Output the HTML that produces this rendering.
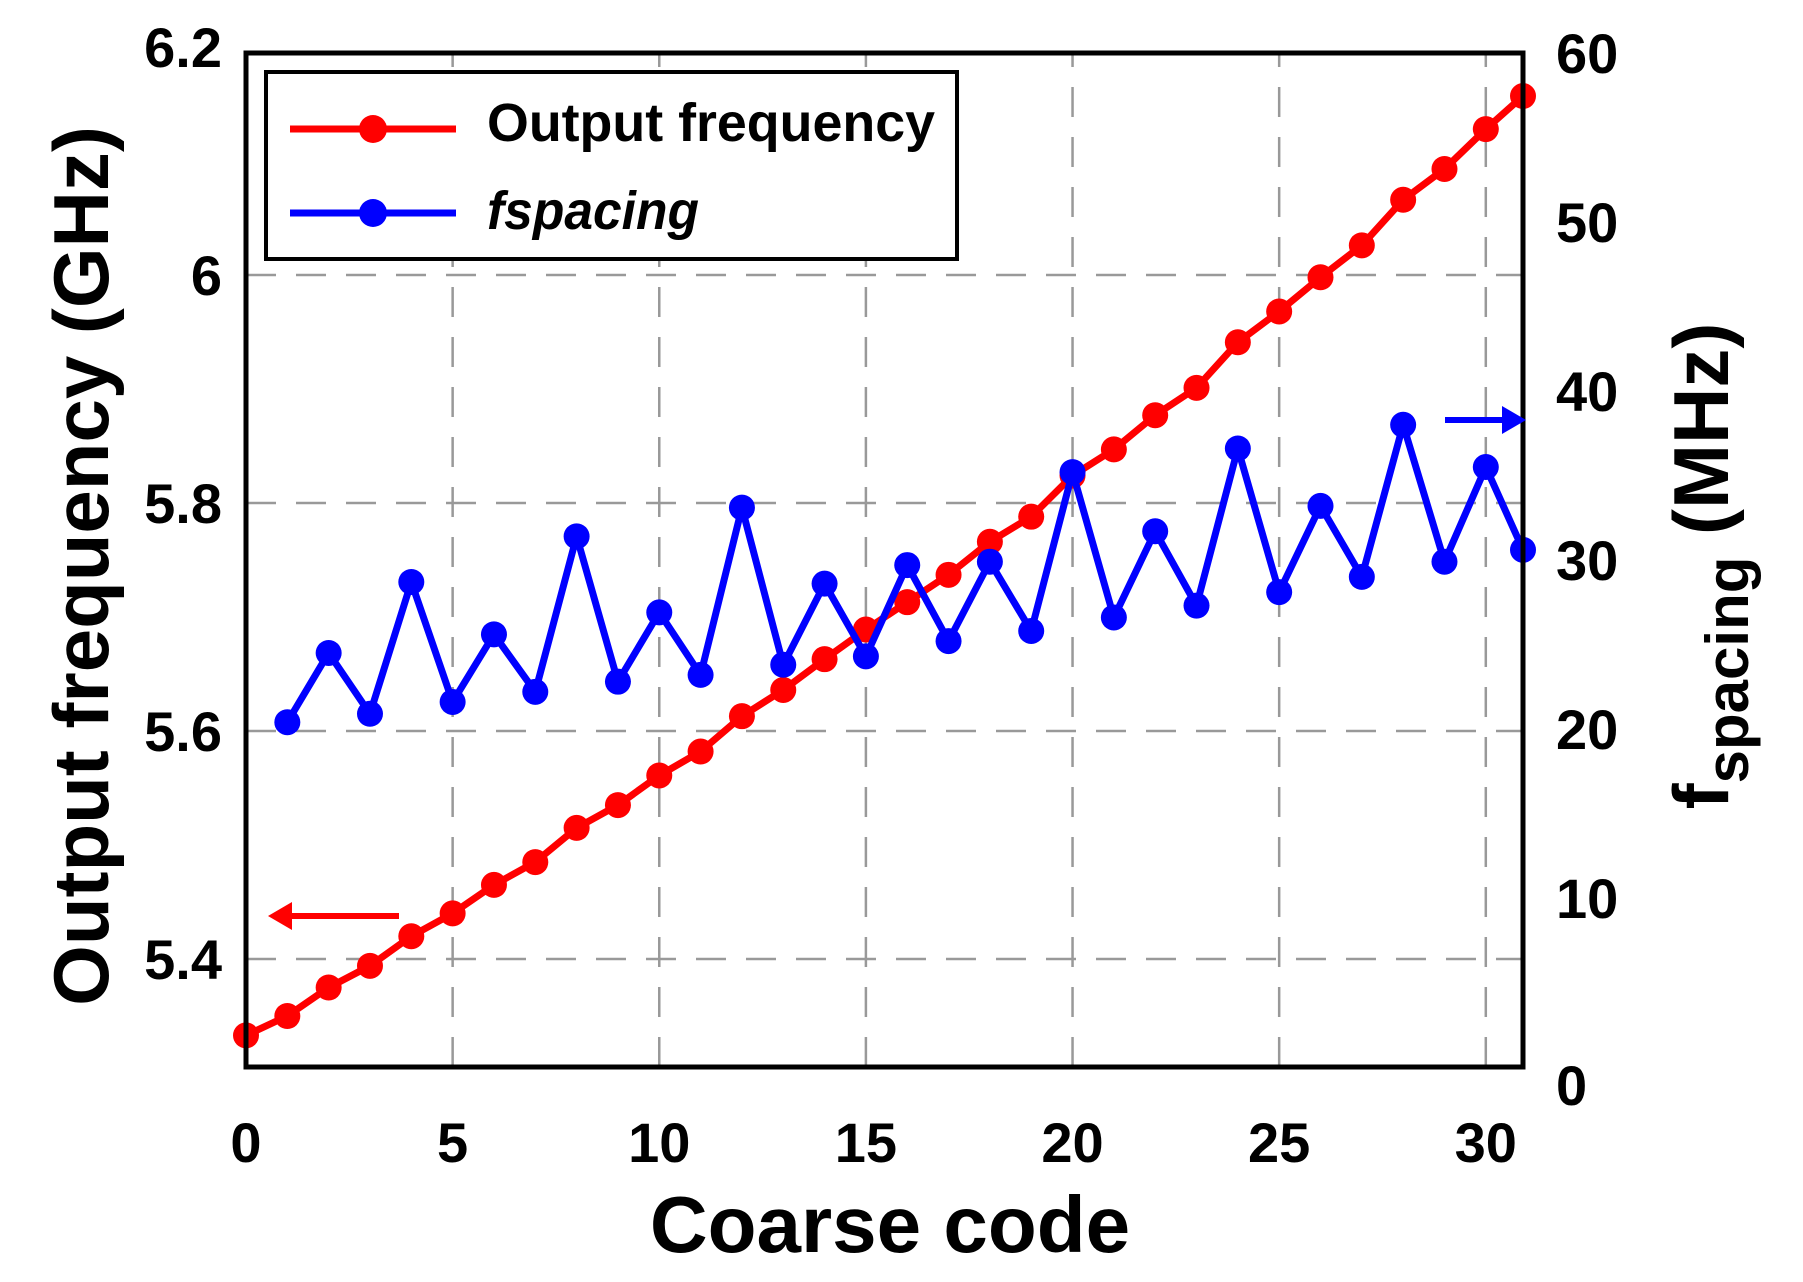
<!DOCTYPE html>
<html><head><meta charset="utf-8"><style>
html,body{margin:0;padding:0;background:#fff;}
svg{display:block;font-family:"Liberation Sans",Arial,sans-serif;font-weight:bold;}
</style></head><body>
<svg id="chart" width="1803" height="1282" viewBox="0 0 1803 1282" xmlns="http://www.w3.org/2000/svg">
<g id="grid"></g>
<g id="series"></g>
<rect x="246" y="53" width="1277" height="1014" fill="none" stroke="#000" stroke-width="5"/>
<g id="ticks"></g>
<text x="890" y="1252" text-anchor="middle" font-size="80">Coarse code</text>
<text transform="translate(108,566) rotate(-90)" text-anchor="middle" font-size="78">Output frequency (GHz)</text>
<text transform="translate(1728,566) rotate(-90)" text-anchor="middle" font-size="78">f<tspan font-size="60" dy="20">spacing</tspan><tspan dy="-20"> (MHz)</tspan></text>
<g><line x1="399" y1="916" x2="285" y2="916" stroke="#f00" stroke-width="6"/><polygon points="268,916 292,902 292,930" fill="#f00"/></g>
<g><line x1="1445" y1="420" x2="1508" y2="420" stroke="#00f" stroke-width="6"/><polygon points="1526,420 1502,406 1502,434" fill="#00f"/></g>
<g>
<rect x="266" y="72" width="691" height="187" fill="#fff" stroke="#000" stroke-width="4"/>
<g><line x1="290" y1="129" x2="456" y2="129" stroke="#f00" stroke-width="7"/><circle cx="373" cy="129" r="14" fill="#f00"/><text x="487" y="141" font-size="54" textLength="448" lengthAdjust="spacingAndGlyphs">Output frequency</text></g>
<g><line x1="290" y1="213" x2="456" y2="213" stroke="#00f" stroke-width="7"/><circle cx="373" cy="213" r="14" fill="#00f"/><text x="487" y="229" font-size="54" font-style="italic" textLength="212" lengthAdjust="spacingAndGlyphs">fspacing</text></g>
</g>
</svg>
<script>
const codes=[0,1,2,3,4,5,6,7,8,9,10,11,12,13,14,15,16,17,18,19,20,21,22,23,24,25,26,27,28,29,30,30.9];
const freqGHz=[5.333,5.35,5.375,5.394,5.42,5.44,5.465,5.485,5.515,5.535,5.561,5.582,5.613,5.636,5.663,5.689,5.713,5.737,5.766,5.788,5.824,5.847,5.877,5.901,5.941,5.968,5.998,6.026,6.066,6.093,6.128,6.157];
const spacingCodes=[1,2,3,4,5,6,7,8,9,10,11,12,13,14,15,16,17,18,19,20,21,22,23,24,25,26,27,28,29,30,30.9];
const spacingMHz=[20.4,24.5,20.9,28.7,21.6,25.6,22.2,31.4,22.8,26.9,23.2,33.1,23.8,28.6,24.3,29.7,25.2,29.9,25.8,35.2,26.6,31.7,27.3,36.6,28.1,33.2,29.0,38.0,29.9,35.5,30.6];
const xTicks=[0,5,10,15,20,25,30];
const yLeftTicks=[5.4,5.6,5.8,6.0,6.2];
const yLeftLabels=["5.4","5.6","5.8","6","6.2"];
const yRightTicks=[0,10,20,30,40,50,60];
const NS="http://www.w3.org/2000/svg";
const X0=246,X1=1523,Y0=1067,Y1=53;
function xs(v){return X0+(v-0)/30.9*(X1-X0);}
function yl(v){return 959-(v-5.4)/0.2*228;}
function yr(v){return Y0-(v/60)*(Y0-Y1);}
function mk(tag,attrs,parent){const e=document.createElementNS(NS,tag);for(const k in attrs)e.setAttribute(k,attrs[k]);parent.appendChild(e);return e;}
const grid=document.getElementById('grid'),ticks=document.getElementById('ticks'),series=document.getElementById('series');
xTicks.forEach(t=>{
  const x=xs(t);
  if(t>0){const g=mk('line',{x1:x,y1:Y0,x2:x,y2:Y1,stroke:'#999','stroke-width':2.5,'stroke-dasharray':'30,20'},grid);
  
  }
  const tx=mk('text',{x:x,y:1162,'text-anchor':'middle','font-size':56},ticks);tx.textContent=t;
  
  
});
yLeftTicks.forEach((t,i)=>{
  const y=yl(t);
  if(t<6.2){const g=mk('line',{x1:X0,y1:y,x2:X1,y2:y,stroke:'#999','stroke-width':2.5,'stroke-dasharray':'30,20'},grid);
  
  }
  const tx=mk('text',{x:222,y:y+20,'text-anchor':'end','font-size':56},ticks);tx.textContent=yLeftLabels[i];
  
  
});
yRightTicks.forEach(t=>{
  const y=yr(t);
  const tx=mk('text',{x:1556,y:y+20+(t===0?18:0),'font-size':56},ticks);tx.textContent=t;
  
  
});
function drawSeries(xv,yv,fy,color,name){
  const pts=xv.map((c,i)=>xs(c)+','+fy(yv[i])).join(' ');
  const pl=mk('polyline',{points:pts,fill:'none',stroke:color,'stroke-width':7,'stroke-linejoin':'round'},series);
  
  
  xv.forEach((c,i)=>{
    const ci=mk('circle',{cx:xs(c),cy:fy(yv[i]),r:13,fill:color},series);
    
    
  });
}
drawSeries(codes,freqGHz,yl,'#f00','output-frequency');
drawSeries(spacingCodes,spacingMHz,yr,'#00f','fspacing');
</script>
</body></html>
